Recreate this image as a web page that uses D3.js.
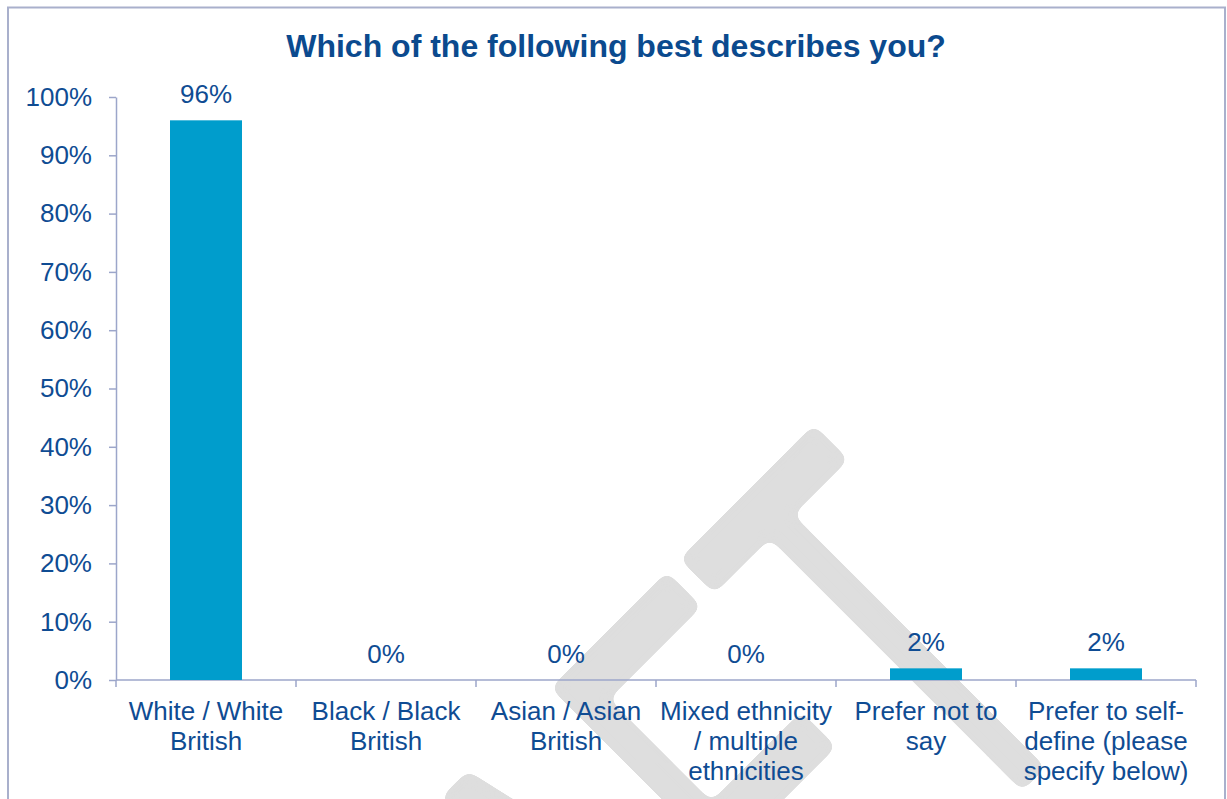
<!DOCTYPE html>
<html>
<head>
<meta charset="utf-8">
<script src="https://cdn.jsdelivr.net/npm/d3@7"></script>
<style>
  html, body { margin: 0; padding: 0; background: #ffffff; }
  svg { display: block; }
  text { font-family: "Liberation Sans", Arial, sans-serif; }
</style>
</head>
<body>
<svg id="chart" width="1227" height="799"></svg>
<script>
// Survey question: ethnicity breakdown of respondents (percent)
const title = "Which of the following best describes you?";
const categories = [
  "White / White British",
  "Black / Black British",
  "Asian / Asian British",
  "Mixed ethnicity / multiple ethnicities",
  "Prefer not to say",
  "Prefer to self-define (please specify below)"
];
const values = [96, 0, 0, 0, 2, 2];
const yTicks = [0, 10, 20, 30, 40, 50, 60, 70, 80, 90, 100];
const watermark = "DRAFT";

const W = 1227, H = 799;
const plot = { left: 116, right: 1196, top: 97, bottom: 680 };

const textBlue = "#0F4C93";
const titleBlue = "#0B4A8E";
const axisColor = "#9CA6CA";
const barColor = "#009DCC";

const svg = d3.select("#chart");

// Soft-cornered lettering for the watermark: blur, then re-threshold the alpha
const defs = svg.append("defs");
const soft = defs.append("filter").attr("id", "softCorners")
  .attr("x", "-10%").attr("y", "-10%").attr("width", "120%").attr("height", "120%");
soft.append("feGaussianBlur").attr("in", "SourceGraphic").attr("stdDeviation", 6);
soft.append("feComponentTransfer")
  .append("feFuncA").attr("type", "linear").attr("slope", 24).attr("intercept", -11.5);

svg.append("rect").attr("width", W).attr("height", H).attr("fill", "#ffffff");

// Chart frame (bottom edge runs past the visible area)
svg.append("rect")
  .attr("x", 8).attr("y", 7.5)
  .attr("width", 1217).attr("height", 830)
  .attr("fill", "#ffffff")
  .attr("stroke", "#A9B0CC").attr("stroke-width", 2);

// Diagonal watermark behind the chart
svg.append("g")
  .attr("filter", "url(#softCorners)")
  .append("text")
  .attr("transform", "translate(1104,706) rotate(-45) scale(1,1.764)")
  .attr("text-anchor", "end")
  .attr("font-size", 331)
  .attr("fill", "#DEDEDE")
  .attr("stroke", "#DEDEDE")
  .attr("stroke-width", 4)
  .attr("stroke-linejoin", "round")
  .attr("vector-effect", "non-scaling-stroke")
  .text(watermark);

// Title
svg.append("text")
  .attr("x", 616).attr("y", 57)
  .attr("text-anchor", "middle")
  .attr("font-size", 32)
  .attr("font-weight", "bold")
  .attr("fill", titleBlue)
  .text(title);

// Scales
const x = d3.scaleBand()
  .domain(categories)
  .range([plot.left, plot.right])
  .paddingInner(0.6)
  .paddingOuter(0.3);

const y = d3.scaleLinear()
  .domain([0, 100])
  .range([plot.bottom, plot.top]);

// Y axis
const yAxis = svg.append("g")
  .attr("transform", `translate(${plot.left},0)`)
  .call(d3.axisLeft(y)
    .tickValues(yTicks)
    .tickFormat(d => d + "%")
    .tickSize(7)
    .tickSizeOuter(0)
    .tickPadding(17));
yAxis.select(".domain").attr("stroke", axisColor).attr("stroke-width", 1.5);
yAxis.selectAll(".tick line").attr("stroke", axisColor).attr("stroke-width", 1.5);
yAxis.selectAll(".tick text")
  .attr("font-size", 26)
  .attr("font-family", "'Liberation Sans', Arial, sans-serif")
  .attr("fill", textBlue);

// X axis: baseline with ticks at category boundaries
const step = x.step();
const gap = step - x.bandwidth();
const boundaries = categories.map(c => x(c) - gap / 2);
boundaries.push(x(categories[categories.length - 1]) + x.bandwidth() + gap / 2);

const xAxis = svg.append("g");
xAxis.append("line")
  .attr("x1", plot.left).attr("x2", plot.right)
  .attr("y1", y(0)).attr("y2", y(0))
  .attr("stroke", axisColor).attr("stroke-width", 1.5);
xAxis.selectAll("line.tk")
  .data(boundaries)
  .join("line")
  .attr("class", "tk")
  .attr("x1", d => d).attr("x2", d => d)
  .attr("y1", y(0)).attr("y2", y(0) + 7)
  .attr("stroke", axisColor).attr("stroke-width", 1.5);

// Category labels, wrapped to the band width (breaking at spaces and after hyphens)
const maxLabelWidth = 178;
const labels = xAxis.selectAll("text.cat")
  .data(categories)
  .join("text")
  .attr("class", "cat")
  .attr("text-anchor", "middle")
  .attr("font-size", 26)
  .attr("fill", textBlue)
  .attr("x", d => x(d) + x.bandwidth() / 2)
  .attr("y", y(0) + 40);

labels.each(function (d) {
  const el = d3.select(this);
  const cx = x(d) + x.bandwidth() / 2;
  const pieces = [];
  d.replace(/([^\s-]+-?)(\s*)/g, (m, word, space) => {
    pieces.push({ word, sep: space ? " " : "" });
    return m;
  });
  const lines = [];
  let current = "";
  let prevSep = "";
  const probe = el.append("tspan");
  pieces.forEach(p => {
    const candidate = current ? current + prevSep + p.word : p.word;
    probe.text(candidate);
    if (current && probe.node().getComputedTextLength() > maxLabelWidth) {
      lines.push(current);
      current = p.word;
    } else {
      current = candidate;
    }
    prevSep = p.sep;
  });
  if (current) lines.push(current);
  probe.remove();
  lines.forEach((line, i) => {
    el.append("tspan")
      .attr("x", cx)
      .attr("dy", i === 0 ? 0 : 30)
      .text(line);
  });
});

// Bars
svg.append("g")
  .selectAll("rect")
  .data(values)
  .join("rect")
  .attr("x", (d, i) => x(categories[i]))
  .attr("width", x.bandwidth())
  .attr("y", d => y(d))
  .attr("height", d => y(0) - y(d))
  .attr("fill", barColor);

// Value labels above bars
svg.append("g")
  .selectAll("text")
  .data(values)
  .join("text")
  .attr("x", (d, i) => x(categories[i]) + x.bandwidth() / 2)
  .attr("y", d => y(d) - 17)
  .attr("text-anchor", "middle")
  .attr("font-size", 26)
  .attr("fill", textBlue)
  .text(d => d + "%");
</script>
</body>
</html>
